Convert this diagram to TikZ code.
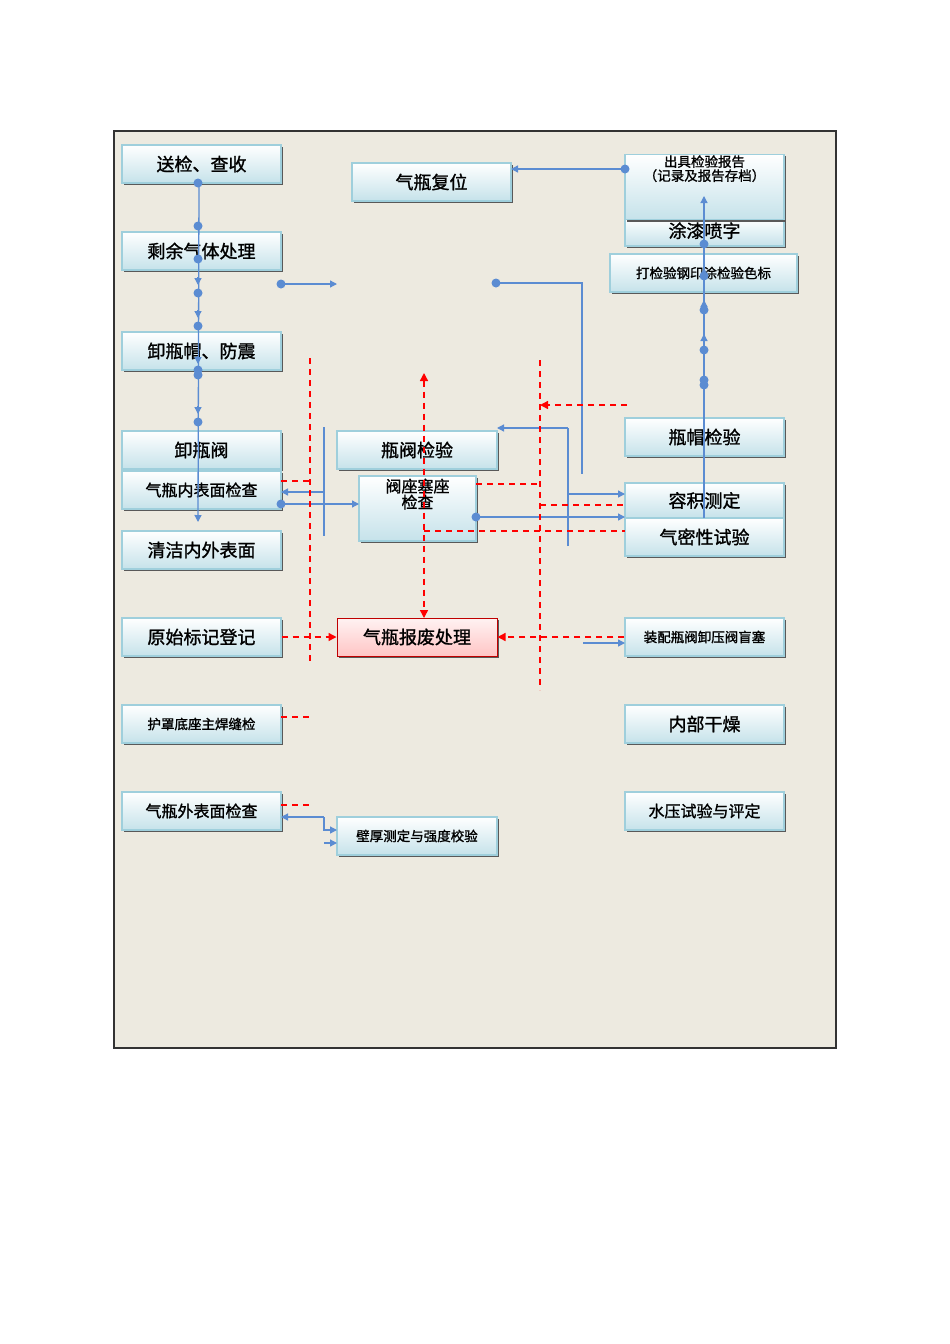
\documentclass[tikz,border=0pt]{standalone}
\usepackage{fontspec}
\setmainfont{Noto Sans CJK SC}[FakeBold=1.3]
\usetikzlibrary{arrows.meta,shadows}
\definecolor{bg}{HTML}{EDEAE0}
\definecolor{bl}{HTML}{5B8CD2}
\definecolor{bd}{HTML}{9FCFDC}
\tikzset{
 box/.style={draw=bd,line width=1.4pt,top color=white,bottom color=bd!60,
   drop shadow={shadow xshift=2pt,shadow yshift=-2pt,fill=black!65,opacity=1},
   inner sep=1pt,align=center,font=\fontsize{18}{19}\selectfont},
 sm/.style={font=\fontsize{13.5}{14}\selectfont},
 md/.style={font=\fontsize{16}{16}\selectfont},
 red/.style={draw=red!75!black,line width=1pt,top color=white!80!pink,bottom color=pink!90!red!70},
 bline/.style={draw=bl,line width=1.3pt},
 arr/.style={bline,-{Triangle[length=7pt,width=7pt]}},
 dot/.style={circle,fill=bl,inner sep=0pt,minimum size=9pt},
 rd/.style={draw=red,line width=1.4pt,dash pattern=on 6pt off 5pt},
 rarr/.style={rd,-{Triangle[length=8pt,width=8pt]}}
}
\newcommand{\bx}[7][]{\node[box,#1,minimum width=#4pt-#2pt,minimum height=#5pt-#3pt] (#6) at ({(#2+#4)/2},{(#3+#5)/2}) {#7};}
\begin{document}
\begin{tikzpicture}[x=1pt,y=-1pt]
\useasboundingbox (0,0) rectangle (950,1344);
\fill[white] (0,0) rectangle (950,1344);
\draw[fill=bg,draw=black!80,line width=1.2pt] (114,131) rectangle (836,1048);
% left column
\bx{122}{145}{281}{183}{a1}{送检、查收}
\bx{122}{232}{281}{270}{a2}{剩余气体处理}
\bx{122}{332}{281}{370}{a3}{卸瓶帽、防震}
\bx{122}{431}{281}{469}{a4}{卸瓶阀}
\bx[md]{122}{471}{281}{509}{a5}{气瓶内表面检查}
\bx{122}{531}{281}{569}{a6}{清洁内外表面}
\bx{122}{618}{281}{656}{a7}{原始标记登记}
\bx[sm]{122}{705}{281}{743}{a8}{护罩底座主焊缝检}
\bx[md]{122}{792}{281}{830}{a9}{气瓶外表面检查}
% middle
\bx{352}{163}{511}{201}{m1}{气瓶复位}
\bx{337}{431}{497}{469}{m2}{瓶阀检验}
\bx[md]{359}{476}{476}{541}{m3}{阀座塞座\\检查\\[14pt]}
\bx[red]{337}{618}{497}{656}{m4}{气瓶报废处理}
\bx[sm]{337}{817}{497}{855}{m5}{壁厚测定与强度校验}
% right
\bx{625}{218}{784}{246}{r2}{\raisebox{4pt}{涂漆喷字}}
\bx[sm]{625}{156}{784}{218}{r1}{出具检验报告\\（记录及报告存档）\\[24pt]}
\bx[sm]{610}{254}{797}{292}{r3}{打检验钢印涂检验色标}
\bx{625}{418}{784}{456}{r4}{瓶帽检验}
\bx{625}{483}{784}{518}{r5}{容积测定}
\bx{625}{518}{784}{556}{r6}{气密性试验}
\bx[sm]{625}{618}{784}{656}{r7}{装配瓶阀卸压阀盲塞}
\bx{625}{705}{784}{743}{r8}{内部干燥}
\bx[md]{625}{792}{784}{830}{r9}{水压试验与评定}
% coordinates
\coordinate (L1) at (199,183); \coordinate (L2) at (198,522);
\coordinate (R1) at (704,518); \coordinate (R2) at (704,196);
\coordinate (p1) at (281,284); \coordinate (p2) at (337,284);
\coordinate (q1) at (496,283); \coordinate (q2) at (582,283); \coordinate (q3) at (582,474);
\coordinate (s1) at (625,169); \coordinate (s2) at (511,169);
\coordinate (t1) at (568,428); \coordinate (t2) at (497,428); \coordinate (t3) at (568,546);
\coordinate (u1) at (568,494); \coordinate (u2) at (625,494);
\coordinate (v1) at (476,517); \coordinate (v2) at (625,517);
\coordinate (w1) at (324,427); \coordinate (w2) at (324,536);
\coordinate (w3) at (324,492); \coordinate (w4) at (281,492);
\coordinate (x1) at (281,504); \coordinate (x2) at (359,504);
\coordinate (y1) at (583,643); \coordinate (y2) at (625,643);
\coordinate (z1) at (324,817); \coordinate (z2) at (281,817);
\coordinate (z3) at (324,830); \coordinate (z4) at (337,830);
\coordinate (z5) at (324,843); \coordinate (z6) at (337,843);
% blue connectors
\draw[arr] (L1) -- (L2);
\foreach \yy in {285,318,364,414}{\draw[arr] (198,\yy-8) -- (198,\yy);}
\foreach \yy in {183,226,259,293,326,370,375,422}{\node[dot] at (198,\yy) {};}
\draw[arr] (R1) -- (R2);
\foreach \yy in {334,300,268}{\draw[arr] (704,\yy+8) -- (704,\yy);}
\foreach \yy in {244,276,310,350,380,385}{\node[dot] at (704,\yy) {};}
\draw[arr] (p1) -- (p2); \node[dot] at (p1) {};
\draw[bline] (q1) -- (q2) -- (q3); \node[dot] at (q1) {};
\draw[arr] (s1) -- (s2); \node[dot] at (s1) {};
\draw[bline] (t3) -- (t1); \draw[arr] (t1) -- (t2);
\draw[arr] (u1) -- (u2);
\draw[arr] (v1) -- (v2); \node[dot] at (v1) {};
\draw[bline] (w1) -- (w2); \draw[arr] (w3) -- (w4);
\draw[arr] (x1) -- (x2); \node[dot] at (x1) {};
\draw[arr] (y1) -- (y2);
\draw[arr] (z1) -- (z2); \draw[arr] (z1) -- (z3) -- (z4); \draw[arr] (z5) -- (z6);
% red dashed
\coordinate (k1) at (310,358); \coordinate (k2) at (310,665);
\coordinate (k3) at (540,360); \coordinate (k4) at (540,690);
\coordinate (k5) at (424,373); \coordinate (k6) at (424,618);
\coordinate (k7) at (627,405); \coordinate (k8) at (540,405);
\draw[rd] (k1) -- (k2); \draw[rd] (k3) -- (k4);
\draw[rd,{Triangle[length=8pt,width=8pt]}-{Triangle[length=8pt,width=8pt]}] (k5) -- (k6);
\draw[rarr] (k7) -- (k8);
\draw[rd] (281,481) -- (310,481);
\draw[rd] (476,484) -- (540,484);
\draw[rd] (540,505) -- (625,505);
\draw[rd] (424,531) -- (625,531);
\draw[rarr] (a7.east) -- (m4.west);
\draw[rarr] (r7.west) -- (m4.east);
\draw[rd] (281,717) -- (310,717);
\draw[rd] (281,805) -- (310,805);
\end{tikzpicture}
\end{document}
